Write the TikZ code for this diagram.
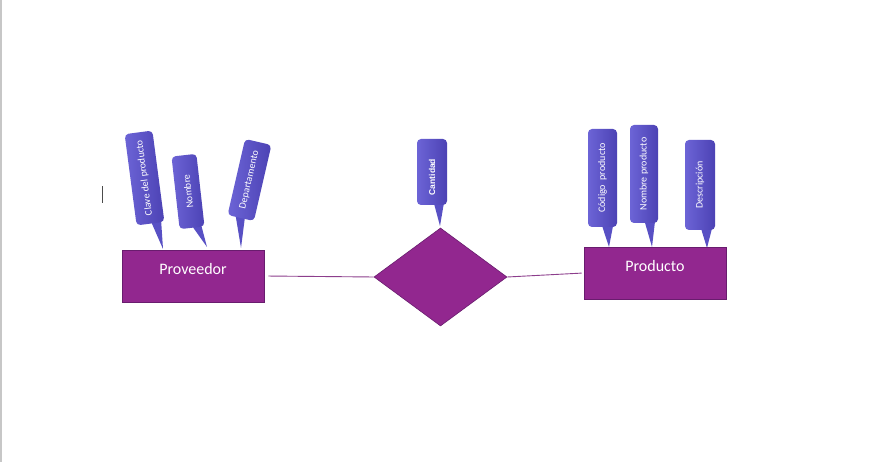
\documentclass[tikz,border=0pt]{standalone}
\usepackage{fontspec}
\setmainfont{Carlito}
\newfontfamily\arialf{Liberation Sans}
\usetikzlibrary{shapes.geometric,calc,backgrounds}
\definecolor{entfill}{RGB}{146,39,143}
\definecolor{entdraw}{RGB}{105,28,110}
\definecolor{linec}{RGB}{140,62,140}
\definecolor{attdark}{RGB}{76,66,180}
\definecolor{attlight}{RGB}{108,100,214}
\definecolor{attmid}{RGB}{88,80,196}
\begin{document}
\begin{tikzpicture}[x=1pt,y=1pt,
  entity/.style={draw=entdraw, line width=0.8pt, fill=entfill, minimum width=142pt,
    minimum height=52pt, inner sep=0pt, text=white,
    font=\fontsize{16}{17}\selectfont, text height=6pt, text depth=8pt},
  relshape/.style={diamond, draw=entdraw, line width=0.6pt, fill=entfill,
    minimum width=133pt, minimum height=98pt, inner sep=0pt},
  attr/.style={rounded corners=4pt, left color=attlight, right color=attdark,
    text=white, inner sep=0pt, font=\fontsize{10}{11}\selectfont},
  ptr/.style={fill=attmid},
  relline/.style={draw=linec, line width=0.9pt}
]
\useasboundingbox (0,0) rectangle (889,462);
% page edge and cursor
\draw[black!22, line width=1.2pt] (1,0) -- (1,462);
\draw[black!70, line width=0.9pt] (102.5,259) -- (102.5,276);

% entities and relationship
\node[entity] (prov) at (193,186) {Proveedor};
\node[entity] (prod) at (655,189) {Producto};
\node[relshape] (rel) at (440.5,185) {};

\draw[relline, shorten <=4pt] (prov.east) -- (rel.west);
\draw[relline, shorten >=2pt] (rel.east) -- (prod.west);

% attributes
\node[attr, rotate=97.5, minimum width=92pt, minimum height=28pt] (a1) at (144.5,284) {Clave del producto};
\node[attr, rotate=96.4, minimum width=73pt, minimum height=25pt] (a2) at (188,270.5) {Nombre};
\node[attr, rotate=77, minimum width=78pt, minimum height=27pt] (a3) at (249.5,282) {Departamento};
\node[attr, rotate=90, minimum width=66pt, minimum height=30pt, font=\arialf\bfseries\fontsize{8.5}{9}\selectfont] (a4) at (432,290) {Cantidad\hspace*{10pt}};
\node[attr, rotate=90, minimum width=98pt, minimum height=29pt] (a5) at (602.5,284) {Código\ \ producto};
\node[attr, rotate=90, minimum width=98pt, minimum height=28pt] (a6) at (644,288) {Nombre producto};
\node[attr, rotate=90, minimum width=90pt, minimum height=30pt] (a7) at (700,277) {Descripción};

\coordinate (t1) at (163,213);
\coordinate (t2) at (207,215);
\coordinate (t3) at (241,214);
\coordinate (t4) at (440,236);
\coordinate (t5) at (609,215);
\coordinate (t6) at (652,215);
\coordinate (t7) at (707,214);

\begin{pgfonlayer}{background}
\fill[white] (0,0) rectangle (889,462);
\fill[ptr] ($(a1.south west)!0.12!(a1.north west)$) -- (t1) -- ($(a1.south west)!0.45!(a1.north west)$) -- (a1.center) -- cycle;
\fill[ptr] ($(a2.south west)!0.12!(a2.north west)$) -- (t2) -- ($(a2.south west)!0.45!(a2.north west)$) -- (a2.center) -- cycle;
\fill[ptr] ($(a3.south west)!0.35!(a3.north west)$) -- (t3) -- ($(a3.south west)!0.68!(a3.north west)$) -- (a3.center) -- cycle;
\fill[ptr] ($(a4.south west)!0.12!(a4.north west)$) -- (t4) -- ($(a4.south west)!0.42!(a4.north west)$) -- (a4.center) -- cycle;
\fill[ptr] ($(a5.south west)!0.15!(a5.north west)$) -- (t5) -- ($(a5.south west)!0.5!(a5.north west)$) -- (a5.center) -- cycle;
\fill[ptr] ($(a6.south west)!0.12!(a6.north west)$) -- (t6) -- ($(a6.south west)!0.46!(a6.north west)$) -- (a6.center) -- cycle;
\fill[ptr] ($(a7.south west)!0.12!(a7.north west)$) -- (t7) -- ($(a7.south west)!0.45!(a7.north west)$) -- (a7.center) -- cycle;
\end{pgfonlayer}
\end{tikzpicture}
\end{document}
